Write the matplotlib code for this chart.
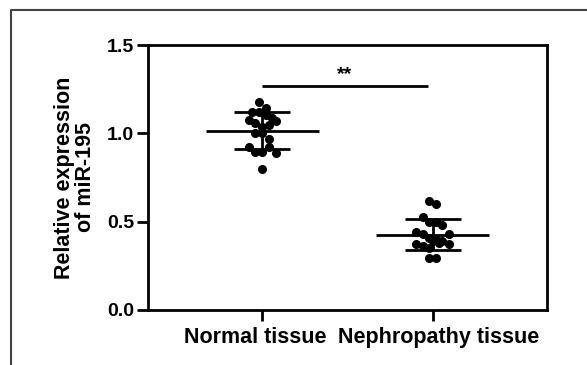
import numpy as np
import matplotlib
matplotlib.use("Agg")
import matplotlib.pyplot as plt
from matplotlib.lines import Line2D
from matplotlib.transforms import ScaledTranslation

# Data
groups = ["Normal tissue", "Nephropathy tissue"]
normal_vals = [1.175, 1.145, 1.119, 1.119, 1.104, 1.085, 1.070, 1.075, 1.057, 1.047,
               1.034, 1.003, 1.000, 0.966, 0.921, 0.924, 0.896, 0.896, 0.887, 0.796]
normal_jit = [-0.02, 0.02, -0.06, -0.02, 0.02, 0.06, 0.08, -0.08, -0.04, 0.04,
              0.0, -0.04, 0.0, 0.04, -0.08, 0.04, -0.04, 0.0, 0.08, 0.0]
nephro_vals = [0.617, 0.598, 0.528, 0.500, 0.500, 0.481, 0.440, 0.430, 0.428, 0.406,
               0.402, 0.392, 0.372, 0.364, 0.372, 0.390, 0.349, 0.296, 0.296, 0.377]
nephro_jit = [-0.02, 0.02, -0.06, -0.02, 0.02, 0.055, -0.10, -0.06, 0.095, -0.025,
              0.02, 0.055, -0.10, -0.06, 0.095, 0.0, -0.02, -0.025, 0.02, 0.035]
sig_y = 1.27
sig_label = "**"

plt.rcParams['font.family'] = ['Liberation Sans', 'DejaVu Sans']
plt.rcParams['font.weight'] = 'bold'

fig = plt.figure(figsize=(5.87, 3.65), dpi=100)
ax = fig.add_axes([0.2521, 0.1507, 0.6798, 0.7260])

lw = 2.0
all_vals = [normal_vals, nephro_vals]
all_jit = [normal_jit, nephro_jit]
for i, (vals, jit) in enumerate(zip(all_vals, all_jit)):
    vals = np.array(vals)
    xs = i + np.array(jit)
    ax.plot(xs, vals, 'o', color='black', markersize=5.5, zorder=3)
    m = vals.mean()
    sd = vals.std(ddof=1)
    # mean line, SD bar and caps
    ax.hlines(m, i - 0.33, i + 0.33, color='black', lw=lw, zorder=4)
    ax.vlines(i, m - sd, m + sd, color='black', lw=lw, zorder=4)
    ax.hlines([m - sd, m + sd], i - 0.165, i + 0.165, color='black', lw=lw, zorder=4)

# significance bar
ax.hlines(sig_y, 0, 0.97, color='black', lw=lw)
ax.text(0.485, sig_y + 0.015, sig_label, ha='center', va='bottom', fontsize=14, fontweight='bold')

ax.set_xlim(-0.67, 1.67)
ax.set_ylim(0, 1.5)
ax.set_xticks([0, 1])
ax.set_xticklabels(groups, fontsize=15.5, fontweight='bold')
ax.set_yticks([0, 0.5, 1.0, 1.5])
ax.set_yticklabels(["%.1f" % v for v in [0, 0.5, 1.0, 1.5]], fontsize=14, fontweight='bold')
ax.tick_params(axis='both', length=8, width=lw, direction='out', pad=2)
ax.tick_params(axis='x', pad=4)
for s in ax.spines.values():
    s.set_linewidth(lw)
ax.set_ylabel("Relative expression\nof miR-195", fontsize=15.5, fontweight='bold',
              labelpad=8, linespacing=1.0)

# nudge the two group labels apart so they don't touch
for lab, dx in zip(ax.get_xticklabels(), [-0.07, 0.06]):
    lab.set_transform(lab.get_transform() + ScaledTranslation(dx, 0, fig.dpi_scale_trans))

# outer frame (top and left only)
fig.add_artist(Line2D([11 / 587, 11 / 587, 1.0], [0.0, 1 - 10 / 365, 1 - 10 / 365],
                      transform=fig.transFigure, color='#444444', lw=1.5))

fig.savefig("out.png", dpi=100)
